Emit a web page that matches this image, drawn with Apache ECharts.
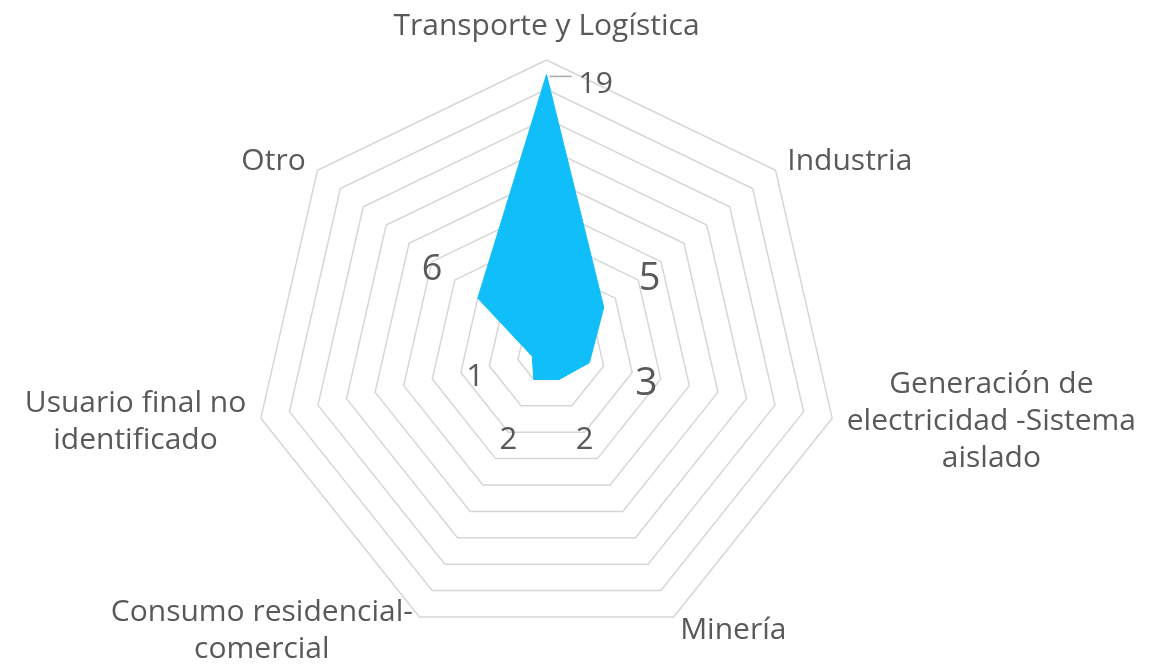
<!DOCTYPE html>
<html>
<head>
<meta charset="utf-8">
<script src="https://cdn.jsdelivr.net/npm/echarts@6/dist/echarts.min.js"></script>
<style>
  html, body { margin: 0; padding: 0; background: #fff; }
  #chart { width: 1155px; height: 664px; }
</style>
</head>
<body>
<div id="chart"></div>
<script>
// categories, clockwise from the top
const categories = [
  'Transporte y Logística',
  'Industria',
  'Generación de\nelectricidad -Sistema\naislado',
  'Minería',
  'Consumo residencial-\ncomercial',
  'Usuario final no\nidentificado',
  'Otro'
];
const values = [19, 5, 3, 2, 2, 1, 6];
const axisMax = 20;
const ringCount = 10;

const textColor = '#595959';
const font = 'Open Sans';
// label font sizes per category (clockwise), the picture mixes them
const labelSizes = [30, 38, 39, 31, 31, 31, 36];
const labelPad = 4; // labels sit this far (in axis units) outside their vertex

// echarts lays radar indicators counter-clockwise, so flip the order
const order = categories.map((_, i) => (categories.length - i) % categories.length);
const names = order.map(i => categories[i]);
const vals = order.map(i => values[i]);
const sizes = order.map(i => labelSizes[i]);

const chart = echarts.init(document.getElementById('chart'));

const labelRich = {};
sizes.forEach((s, i) => {
  labelRich['d' + i] = { fontSize: s, color: textColor, fontFamily: font };
});

const options = {
  animation: false,
  radar: {
    center: [546.5, 353],
    radius: 293,
    startAngle: 90,
    splitNumber: ringCount,
    shape: 'polygon',
    nameGap: 15,
    indicator: names.map(n => ({ name: n, max: axisMax, min: 0 })),
    axisName: {
      color: textColor,
      fontSize: 30,
      fontFamily: font,
      lineHeight: 37,
      formatter: name => name.split('\n').map(s => '{c|' + s + '}').join('\n'),
      rich: {
        c: { align: 'center', color: textColor, fontSize: 30, fontFamily: font, lineHeight: 37 }
      }
    },
    axisLine: { show: false },
    axisTick: { show: false },
    axisLabel: { show: false },
    splitArea: { show: false },
    splitLine: { lineStyle: { color: '#d6d6d6', width: 1.5 } }
  },
  series: [
    {
      type: 'radar',
      silent: true,
      symbol: 'none',
      lineStyle: { color: '#10bef9', width: 1 },
      areaStyle: { color: '#10bef9', opacity: 1 },
      data: [{ value: vals }]
    },
    {
      // invisible series only used to place the value labels
      type: 'radar',
      silent: true,
      symbol: 'circle',
      symbolSize: 2,
      itemStyle: { color: 'transparent' },
      lineStyle: { width: 0, opacity: 0 },
      data: [
        {
          value: vals.map((v, i) => (i === 0 ? v : v + labelPad)),
          label: {
            show: true,
            position: 'inside',
            offset: [0, 8],
            formatter: p => (p.dimensionIndex === 0 ? '' : '{d' + p.dimensionIndex + '|' + vals[p.dimensionIndex] + '}'),
            rich: labelRich
          }
        },
        {
          value: vals,
          label: {
            show: true,
            position: 'right',
            distance: 2,
            offset: [0, 10],
            formatter: p => (p.dimensionIndex === 0 ? '{l| }{v|' + vals[0] + '}' : ''),
            rich: {
              l: { width: 22, height: 1.5, backgroundColor: '#a6a6a6', verticalAlign: 'top' },
              v: { fontSize: sizes[0], lineHeight: 18, padding: [0, 0, 0, 7], color: textColor, fontFamily: font }
            }
          }
        }
      ]
    }
  ]
};

chart.setOption(options);
</script>
</body>
</html>
